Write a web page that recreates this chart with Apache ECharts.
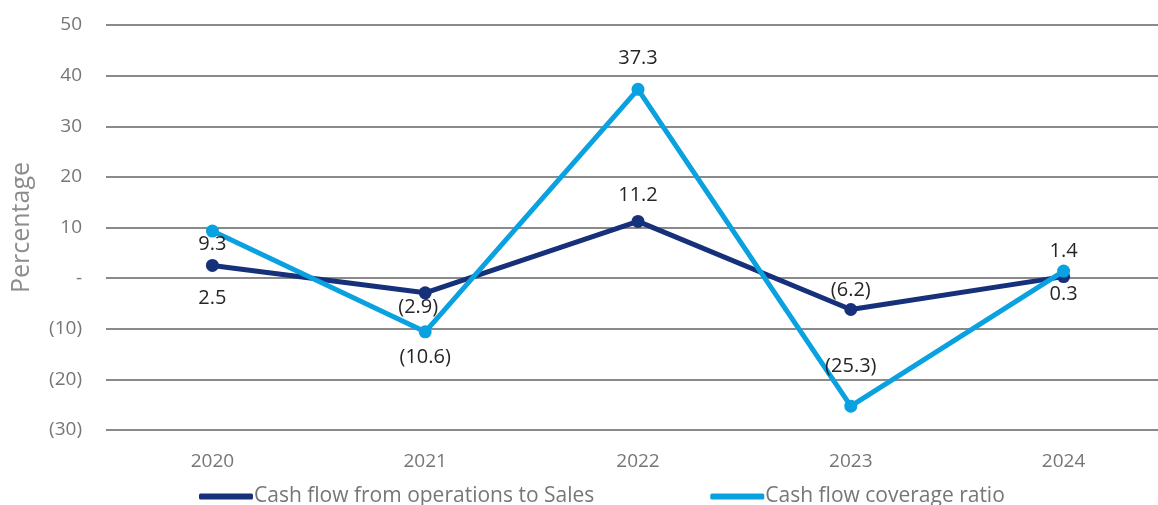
<!DOCTYPE html>
<html>
<head>
<meta charset="utf-8">
<script src="https://cdn.jsdelivr.net/npm/echarts@6/dist/echarts.min.js"></script>
<style>html,body{margin:0;padding:0;background:#fff}#c{width:1158px;height:505px}</style>
</head>
<body>
<div id="c"></div>
<script>
const categories = ['2020', '2021', '2022', '2023', '2024'];
const cfoToSales = [2.5, -2.9, 11.2, -6.2, 0.3];
const coverageRatio = [9.3, -10.6, 37.3, -25.3, 1.4];
const seriesNames = ['Cash flow from operations to Sales', 'Cash flow coverage ratio'];
const cfoLabelPos = ['bottom', 'bottom', 'top', 'top', 'bottom'];
const covLabelPos = ['bottom', 'bottom', 'top', 'top', 'top'];

function fmt(v) {
  if (v === 0) return '-';
  return v < 0 ? '(' + Math.abs(v) + ')' : String(v);
}
function fmt1(v) {
  return v < 0 ? '(' + Math.abs(v).toFixed(1) + ')' : v.toFixed(1);
}
const FONT = 'Open Sans';
function mkData(vals, pos, offsets) {
  return vals.map((v, i) => ({
    value: v,
    label: { position: pos[i], offset: offsets[i] }
  }));
}
const chart = echarts.init(document.getElementById('c'));
chart.setOption({
  animation: false,
  grid: { left: 106, right: -12, top: 25, bottom: 75, outerBoundsMode: 'none' },
  legend: {
    left: 194, top: 481, itemWidth: 54, itemHeight: 6, itemGap: 116,
    icon: 'roundRect',
    textStyle: { fontFamily: FONT, fontSize: 21, color: '#767676', padding: [0, 0, 0, -4] },
    data: seriesNames
  },
  xAxis: {
    type: 'category', data: categories,
    axisLine: { show: false }, axisTick: { show: false },
    axisLabel: { fontFamily: FONT, fontSize: 19, color: '#767676', margin: 22 }
  },
  yAxis: {
    type: 'value', min: -30, max: 50, interval: 10,
    name: 'Percentage', nameLocation: 'middle', nameGap: 72,
    nameTextStyle: { fontFamily: FONT, fontSize: 25, color: '#8c8c8c' },
    axisLabel: { fontFamily: FONT, fontSize: 19, color: '#767676', margin: 24, formatter: fmt },
    axisLine: { show: false }, axisTick: { show: false },
    splitLine: { lineStyle: { color: '#8a8a8a', width: 2 } }
  },
  series: [
    {
      name: seriesNames[0], type: 'line', data: mkData(cfoToSales, cfoLabelPos, [[0, 8], [-7, -10], [0, -2], [0, 5], [0, -7]]),
      color: '#17307a', lineStyle: { width: 5 }, symbol: 'circle', symbolSize: 13,
      label: { show: true, fontFamily: FONT, fontSize: 20, color: '#262626', distance: 8, formatter: p => fmt1(p.value) },
      z: 2
    },
    {
      name: seriesNames[1], type: 'line', data: mkData(coverageRatio, covLabelPos, [[0, -11], [0, 1], [0, -6], [0, -15], [0, 5]]),
      color: '#0aa1e0', lineStyle: { width: 5 }, symbol: 'circle', symbolSize: 13,
      label: { show: true, fontFamily: FONT, fontSize: 20, color: '#262626', distance: 8, formatter: p => fmt1(p.value) },
      z: 3
    }
  ]
});
</script>
</body>
</html>
